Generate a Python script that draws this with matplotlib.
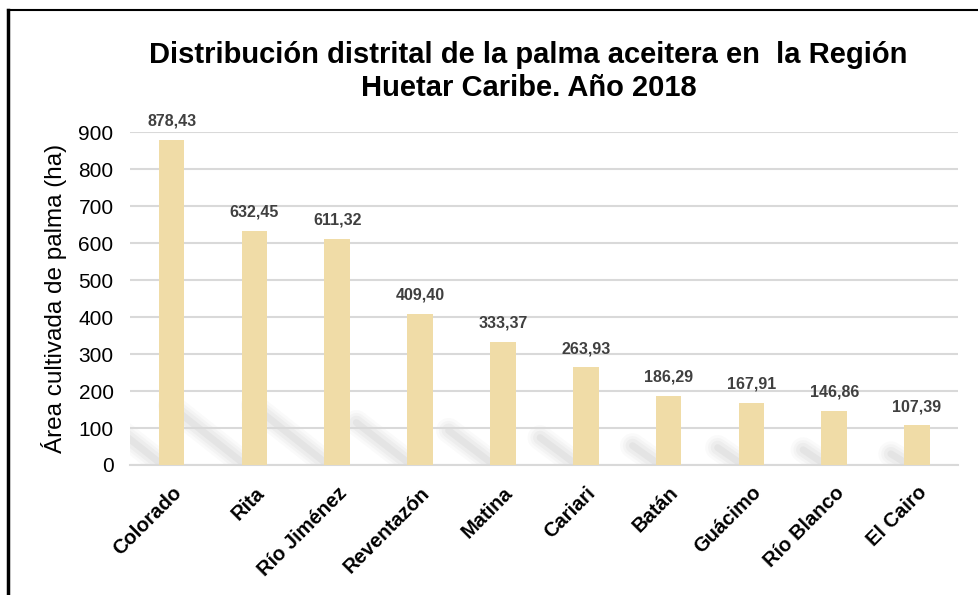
import numpy as np
import matplotlib.pyplot as plt

plt.rcParams['font.family'] = ['Liberation Sans', 'DejaVu Sans']

# districts and cultivated area (ha)
distritos = ['Colorado', 'Rita', 'Río Jiménez', 'Reventazón', 'Matina',
             'Cariari', 'Batán', 'Guácimo', 'Río Blanco', 'El Cairo']
area = [878.43, 632.45, 611.32, 409.40, 333.37, 263.93, 186.29, 167.91, 146.86, 107.39]
etiquetas = ['878,43', '632,45', '611,32', '409,40', '333,37',
             '263,93', '186,29', '167,91', '146,86', '107,39']
yticks = [0, 100, 200, 300, 400, 500, 600, 700, 800, 900]

fig = plt.figure(figsize=(9.79, 5.95), dpi=100)
ax = fig.add_axes([0.133, 0.2185, 0.846, 0.5595])

x = np.arange(len(distritos))
bar_w = 0.31

#soft perspective shadow behind each bar
for xi, h in zip(x, area):
    hs = min(0.28 * h, 160)
    dx = hs * 0.37 * 1.2 / 82.8
    x0 = xi - bar_w / 2
    for lw, a in [(18, 0.035), (14, 0.045), (10, 0.06), (5, 0.08)]:
        ax.plot([x0 - dx, x0], [hs, 8], color='#7f7f7f', lw=lw, alpha=a,
                solid_capstyle='round', zorder=1)

ax.bar(x, area, width=bar_w, color='#F0DCA7', zorder=3)

for xi, h, t in zip(x, area, etiquetas):
    ax.annotate(t, (xi, h), xytext=(0, 8), textcoords='offset points',
                ha='center', va='bottom', fontsize=11.5, fontweight='bold',
                color='#404040', annotation_clip=False)

ax.set_xlim(-0.5, len(distritos) - 0.5)
ax.set_ylim(0, 900)
ax.set_yticks(yticks)
ax.set_yticklabels([str(v) for v in yticks], fontsize=15)
ax.set_xticks(x)
ax.set_xticklabels(distritos, rotation=45, ha='right', rotation_mode='anchor',
                   fontsize=14.5, fontweight='bold')
ax.tick_params(axis='x', length=0, pad=13)
ax.tick_params(axis='y', length=0, pad=12)
ax.grid(axis='y', color='#D9D9D9', lw=1.5, zorder=0)
for s in ['top', 'right', 'left']:
    ax.spines[s].set_visible(False)
ax.spines['bottom'].set_color('#D9D9D9')
ax.spines['bottom'].set_linewidth(1.5)

ax.set_ylabel('Área cultivada de palma (ha)', fontsize=17.5, labelpad=8)

fig.text(0.54, 0.88, 'Distribución distrital de la palma aceitera en  la Región\nHuetar Caribe. Año 2018',
         ha='center', va='center', fontsize=21, fontweight='bold', linespacing=1.2)

# frame lines (top and left only)
fig.add_artist(plt.Line2D([0.008, 1.0], [0.983, 0.983], color='black', lw=1.5))
fig.add_artist(plt.Line2D([0.008, 0.008], [0.0, 0.983], color='black', lw=2.5))

fig.savefig('out.png', dpi=100)
